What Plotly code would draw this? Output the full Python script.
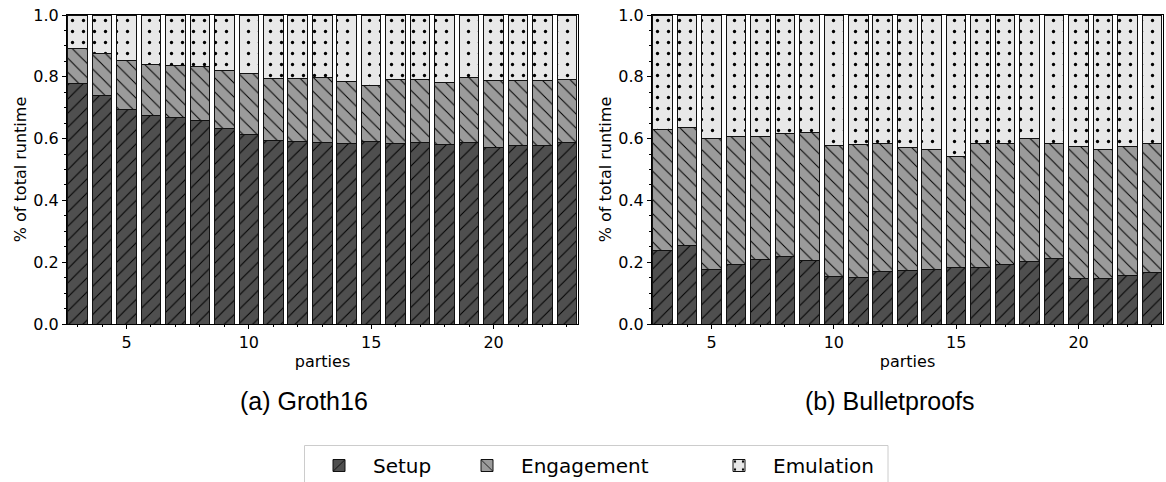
import plotly.graph_objects as go

W, H = 1166, 482

parties = list(range(3, 24))

# Groth16 (fractions of total runtime)
groth_setup = [0.778, 0.738, 0.694, 0.676, 0.669, 0.659, 0.634, 0.613, 0.593, 0.592, 0.586,
               0.584, 0.591, 0.584, 0.589, 0.581, 0.586, 0.571, 0.579, 0.578, 0.589]
groth_setup_eng = [0.892, 0.874, 0.853, 0.839, 0.836, 0.832, 0.819, 0.810, 0.795, 0.793, 0.797,
                   0.786, 0.773, 0.791, 0.791, 0.781, 0.797, 0.787, 0.787, 0.788, 0.792]

# Bulletproofs
bp_setup = [0.237, 0.255, 0.178, 0.194, 0.209, 0.220, 0.207, 0.153, 0.152, 0.170, 0.172,
            0.178, 0.182, 0.182, 0.194, 0.203, 0.213, 0.147, 0.148, 0.158, 0.167]
bp_setup_eng = [0.630, 0.636, 0.601, 0.606, 0.608, 0.616, 0.619, 0.579, 0.582, 0.585, 0.571,
                0.564, 0.541, 0.585, 0.585, 0.599, 0.584, 0.574, 0.564, 0.574, 0.584]

series_names = ["Setup", "Engagement", "Emulation"]
captions = ["(a) Groth16", "(b) Bulletproofs"]


def split(setup, setup_eng):
    eng = [b - a for a, b in zip(setup, setup_eng)]
    emu = [1 - b for b in setup_eng]
    return [setup, eng, emu]


styles = {
    "Setup": dict(color="#4f4f4f", shape="/", size=10, solidity=0.1),
    "Engagement": dict(color="#9b9b9b", shape="\\", size=10, solidity=0.1),
    "Emulation": dict(color="#e8e8e8", shape=".", size=11, solidity=0.07),
}
legend_ids = {"Setup": "legend", "Engagement": "legend2", "Emulation": "legend3"}
legend_left_px = {"legend": 304, "legend2": 452, "legend3": 704}

fig = go.Figure()
datasets = [split(groth_setup, groth_setup_eng), split(bp_setup, bp_setup_eng)]
for i, data in enumerate(datasets):
    for name, vals in zip(series_names, data):
        st = styles[name]
        pat = dict(shape=st["shape"], fgcolor="black", bgcolor=st["color"],
                   fillmode="replace", size=st["size"], solidity=st["solidity"])
        fig.add_trace(go.Bar(
            x=parties, y=vals, name=name, width=0.8,
            marker=dict(color=st["color"], line=dict(color="#111111", width=1), pattern=pat),
            xaxis="x" if i == 0 else "x2", yaxis="y" if i == 0 else "y2",
            legendgroup=name, showlegend=(i == 0), legend=legend_ids[name],
        ))

def px_x(p):
    return p / W

def px_y(p):
    return 1 - p / H

font_tick = dict(family="DejaVu Sans", size=16, color="black")
axis_common = dict(showline=True, linecolor="black", linewidth=1, mirror=True,
                   ticks="outside", ticklen=4, tickwidth=1, tickcolor="black",
                   tickfont=font_tick, showgrid=False, zeroline=False)

xdom1 = [px_x(67), px_x(578)]
xdom2 = [px_x(652), px_x(1163)]
ydom = [px_y(324), px_y(15)]

for k, dom in (("xaxis", xdom1), ("xaxis2", xdom2)):
    fig.update_layout({k: dict(
        domain=dom, range=[2.57, 23.45], tickvals=[5, 10, 15, 20],
        title=dict(text="parties", font=font_tick, standoff=4),
        minor=dict(dtick=1, tick0=0, ticks="outside", ticklen=2, tickcolor="black", showgrid=False),
        anchor="y" if k == "xaxis" else "y2", **axis_common)})

for k, anc in (("yaxis", "x"), ("yaxis2", "x2")):
    fig.update_layout({k: dict(
        domain=ydom, range=[0, 1], dtick=0.2, tickformat=".1f",
        title=dict(text="% of total runtime", font=font_tick, standoff=2),
        minor=dict(dtick=0.05, ticks="outside", ticklen=2, tickcolor="black", showgrid=False),
        anchor=anc, **axis_common)})

for cap, cx in zip(captions, (303.5, 890)):
    fig.add_annotation(text=cap, xref="paper", yref="paper", x=px_x(cx), y=px_y(401),
                       xanchor="center", yanchor="middle", showarrow=False,
                       font=dict(family="Liberation Sans", size=25, color="black"))

# legend frame
fig.add_shape(type="rect", xref="paper", yref="paper",
              x0=px_x(304.5), x1=px_x(888), y0=px_y(500), y1=px_y(445.5),
              line=dict(color="#cccccc", width=1), fillcolor="rgba(0,0,0,0)", layer="above")

legend_common = dict(orientation="h", xanchor="left", yanchor="top", traceorder="normal",
                     itemwidth=58, font=dict(family="DejaVu Sans", size=20, color="black"),
                     borderwidth=1, bordercolor="rgba(0,0,0,0)", bgcolor="rgba(0,0,0,0)")
for lid, lx in legend_left_px.items():
    fig.update_layout({lid: dict(x=px_x(lx), y=px_y(445), **legend_common)})

fig.update_layout(
    width=W, height=H, barmode="stack",
    margin=dict(l=0, r=0, t=0, b=0, autoexpand=False),
    paper_bgcolor="white", plot_bgcolor="white",
    font=dict(family="DejaVu Sans", color="black"),
)

fig.write_html("out.html")
